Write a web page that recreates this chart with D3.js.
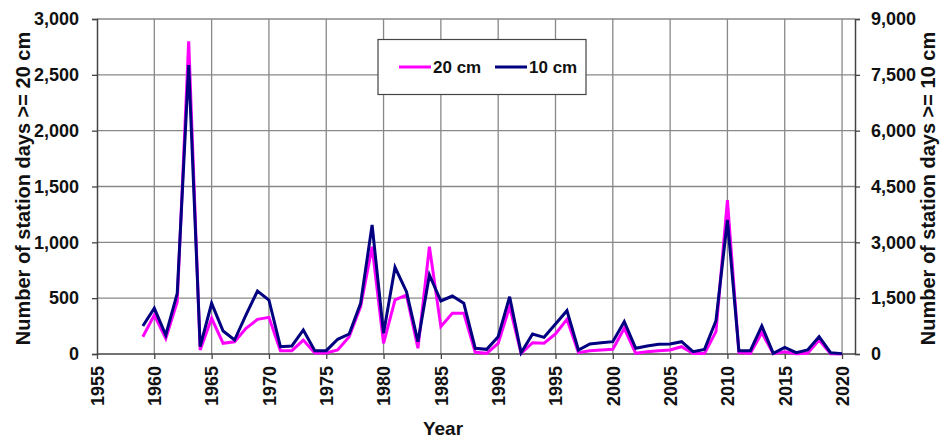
<!DOCTYPE html>
<html><head><meta charset="utf-8">
<script src="https://cdn.jsdelivr.net/npm/d3@7"></script>
<style>
html,body{margin:0;padding:0;background:#fff;}
text{font-family:"Liberation Sans",Arial,Helvetica,sans-serif;font-weight:bold;fill:#111;}
</style></head>
<body><svg id="c" width="942" height="439"></svg>
<script>
const years = d3.range(1959, 2021);
const days20cm = [155,349,140,468,2800,36,320,96,110,230,310,328,30,30,125,10,10,36,155,424,961,96,484,528,51,961,245,364,364,15,6,96,424,6,101,96,179,311,12,30,36,42,230,6,21,30,36,65,4,4,200,1379,12,6,191,3,21,3,6,125,3,0];
const days10cm = [752,1228,510,1630,7765,196,1362,618,376,1048,1693,1451,196,215,645,89,89,395,537,1362,3466,556,2329,1675,331,2123,1424,1558,1362,153,125,466,1540,35,537,448,806,1164,107,269,304,331,868,153,215,260,269,331,62,125,895,3600,89,89,752,18,179,35,107,466,35,10];
const leftTicks = [0,500,1000,1500,2000,2500,3000];
const rightTicks = [0,1500,3000,4500,6000,7500,9000];
const yearTicks = d3.range(1955, 2021, 5);
const seriesNames = ["20 cm","10 cm"];
const colors = ["#ff00ff","#000080"];

const svg = d3.select("#c");
const L = 97, R = 855, T = 19, B = 354;
const x = d3.scaleLinear().domain([1955, 2021.13]).range([L, R]);
const yL = d3.scaleLinear().domain([0, 3000]).range([B, T]);
const yR = d3.scaleLinear().domain([0, 9000]).range([B, T]);
const fmt = d3.format(",");

// grid
const g = svg.append("g");
g.selectAll("line.h").data(leftTicks.slice(1)).join("line")
  .attr("x1", L).attr("x2", R).attr("y1", d=>yL(d)).attr("y2", d=>yL(d))
  .attr("stroke", "#888").attr("stroke-width", 1.3);
g.selectAll("line.v").data(yearTicks.slice(1)).join("line")
  .attr("y1", T).attr("y2", B).attr("x1", d=>x(d)).attr("x2", d=>x(d))
  .attr("stroke", "#888").attr("stroke-width", 1.3);

// axes
const axL = svg.append("g").attr("transform", `translate(${L},0)`)
  .call(d3.axisLeft(yL).tickValues(leftTicks).tickFormat(fmt).tickSize(5).tickPadding(13));
const axR = svg.append("g").attr("transform", `translate(${R},0)`)
  .call(d3.axisRight(yR).tickValues(rightTicks).tickFormat(fmt).tickSize(5).tickPadding(11));
const axB = svg.append("g").attr("transform", `translate(0,${B})`)
  .call(d3.axisBottom(x).tickValues(yearTicks).tickFormat(d3.format("d")).tickSize(5));
[axL, axR, axB].forEach(a => {
  a.select(".domain").attr("stroke", "#444").attr("stroke-width", 1.5);
  a.selectAll(".tick line").attr("stroke", "#444").attr("stroke-width", 1.3);
  a.selectAll("text").attr("font-size", 18).attr("font-family", "Liberation Sans, Arial, sans-serif").attr("font-weight", "bold").attr("fill", "#111");
});
axB.select(".domain").attr("d", `M${L},0H${R}`);
axB.selectAll(".tick text")
  .attr("transform", "rotate(-90)")
  .attr("text-anchor", "end")
  .attr("x", -12).attr("y", 0).attr("dy", "0.35em");

// lines
const line20 = d3.line().x((d,i)=>x(years[i])).y(d=>yL(d));
const line10 = d3.line().x((d,i)=>x(years[i])).y(d=>yR(d));
svg.append("path").datum(days20cm).attr("d", line20).attr("fill","none")
  .attr("stroke", colors[0]).attr("stroke-width", 3).attr("stroke-linejoin","miter");
svg.append("path").datum(days10cm).attr("d", line10).attr("fill","none")
  .attr("stroke", colors[1]).attr("stroke-width", 3).attr("stroke-linejoin","miter");

// titles
svg.append("text").attr("transform", `translate(23,${(T+B)/2 + 2}) rotate(-90)`)
  .attr("text-anchor","middle").attr("dy","0.35em").attr("font-size", 20)
  .text("Number of station days >= 20 cm");
svg.append("text").attr("transform", `translate(928,${(T+B)/2 + 2}) rotate(-90)`)
  .attr("text-anchor","middle").attr("dy","0.35em").attr("font-size", 20)
  .text("Number of station days >= 10 cm");
svg.append("text").attr("x", 443).attr("y", 435).attr("text-anchor","middle")
  .attr("font-size", 19).text("Year");

// legend
const lg = svg.append("g");
lg.append("rect").attr("x", 378).attr("y", 39.5).attr("width", 208).attr("height", 55)
  .attr("fill", "#fff").attr("stroke", "#444").attr("stroke-width", 1.2);
const lx = [399, 495];
seriesNames.forEach((n, i) => {
  lg.append("line").attr("x1", lx[i]).attr("x2", lx[i] + 32).attr("y1", 67).attr("y2", 67)
    .attr("stroke", colors[i]).attr("stroke-width", 3);
  lg.append("text").attr("x", lx[i] + 34).attr("y", 67).attr("dy", "0.35em")
    .attr("font-size", 17).text(n);
});
</script></body></html>
